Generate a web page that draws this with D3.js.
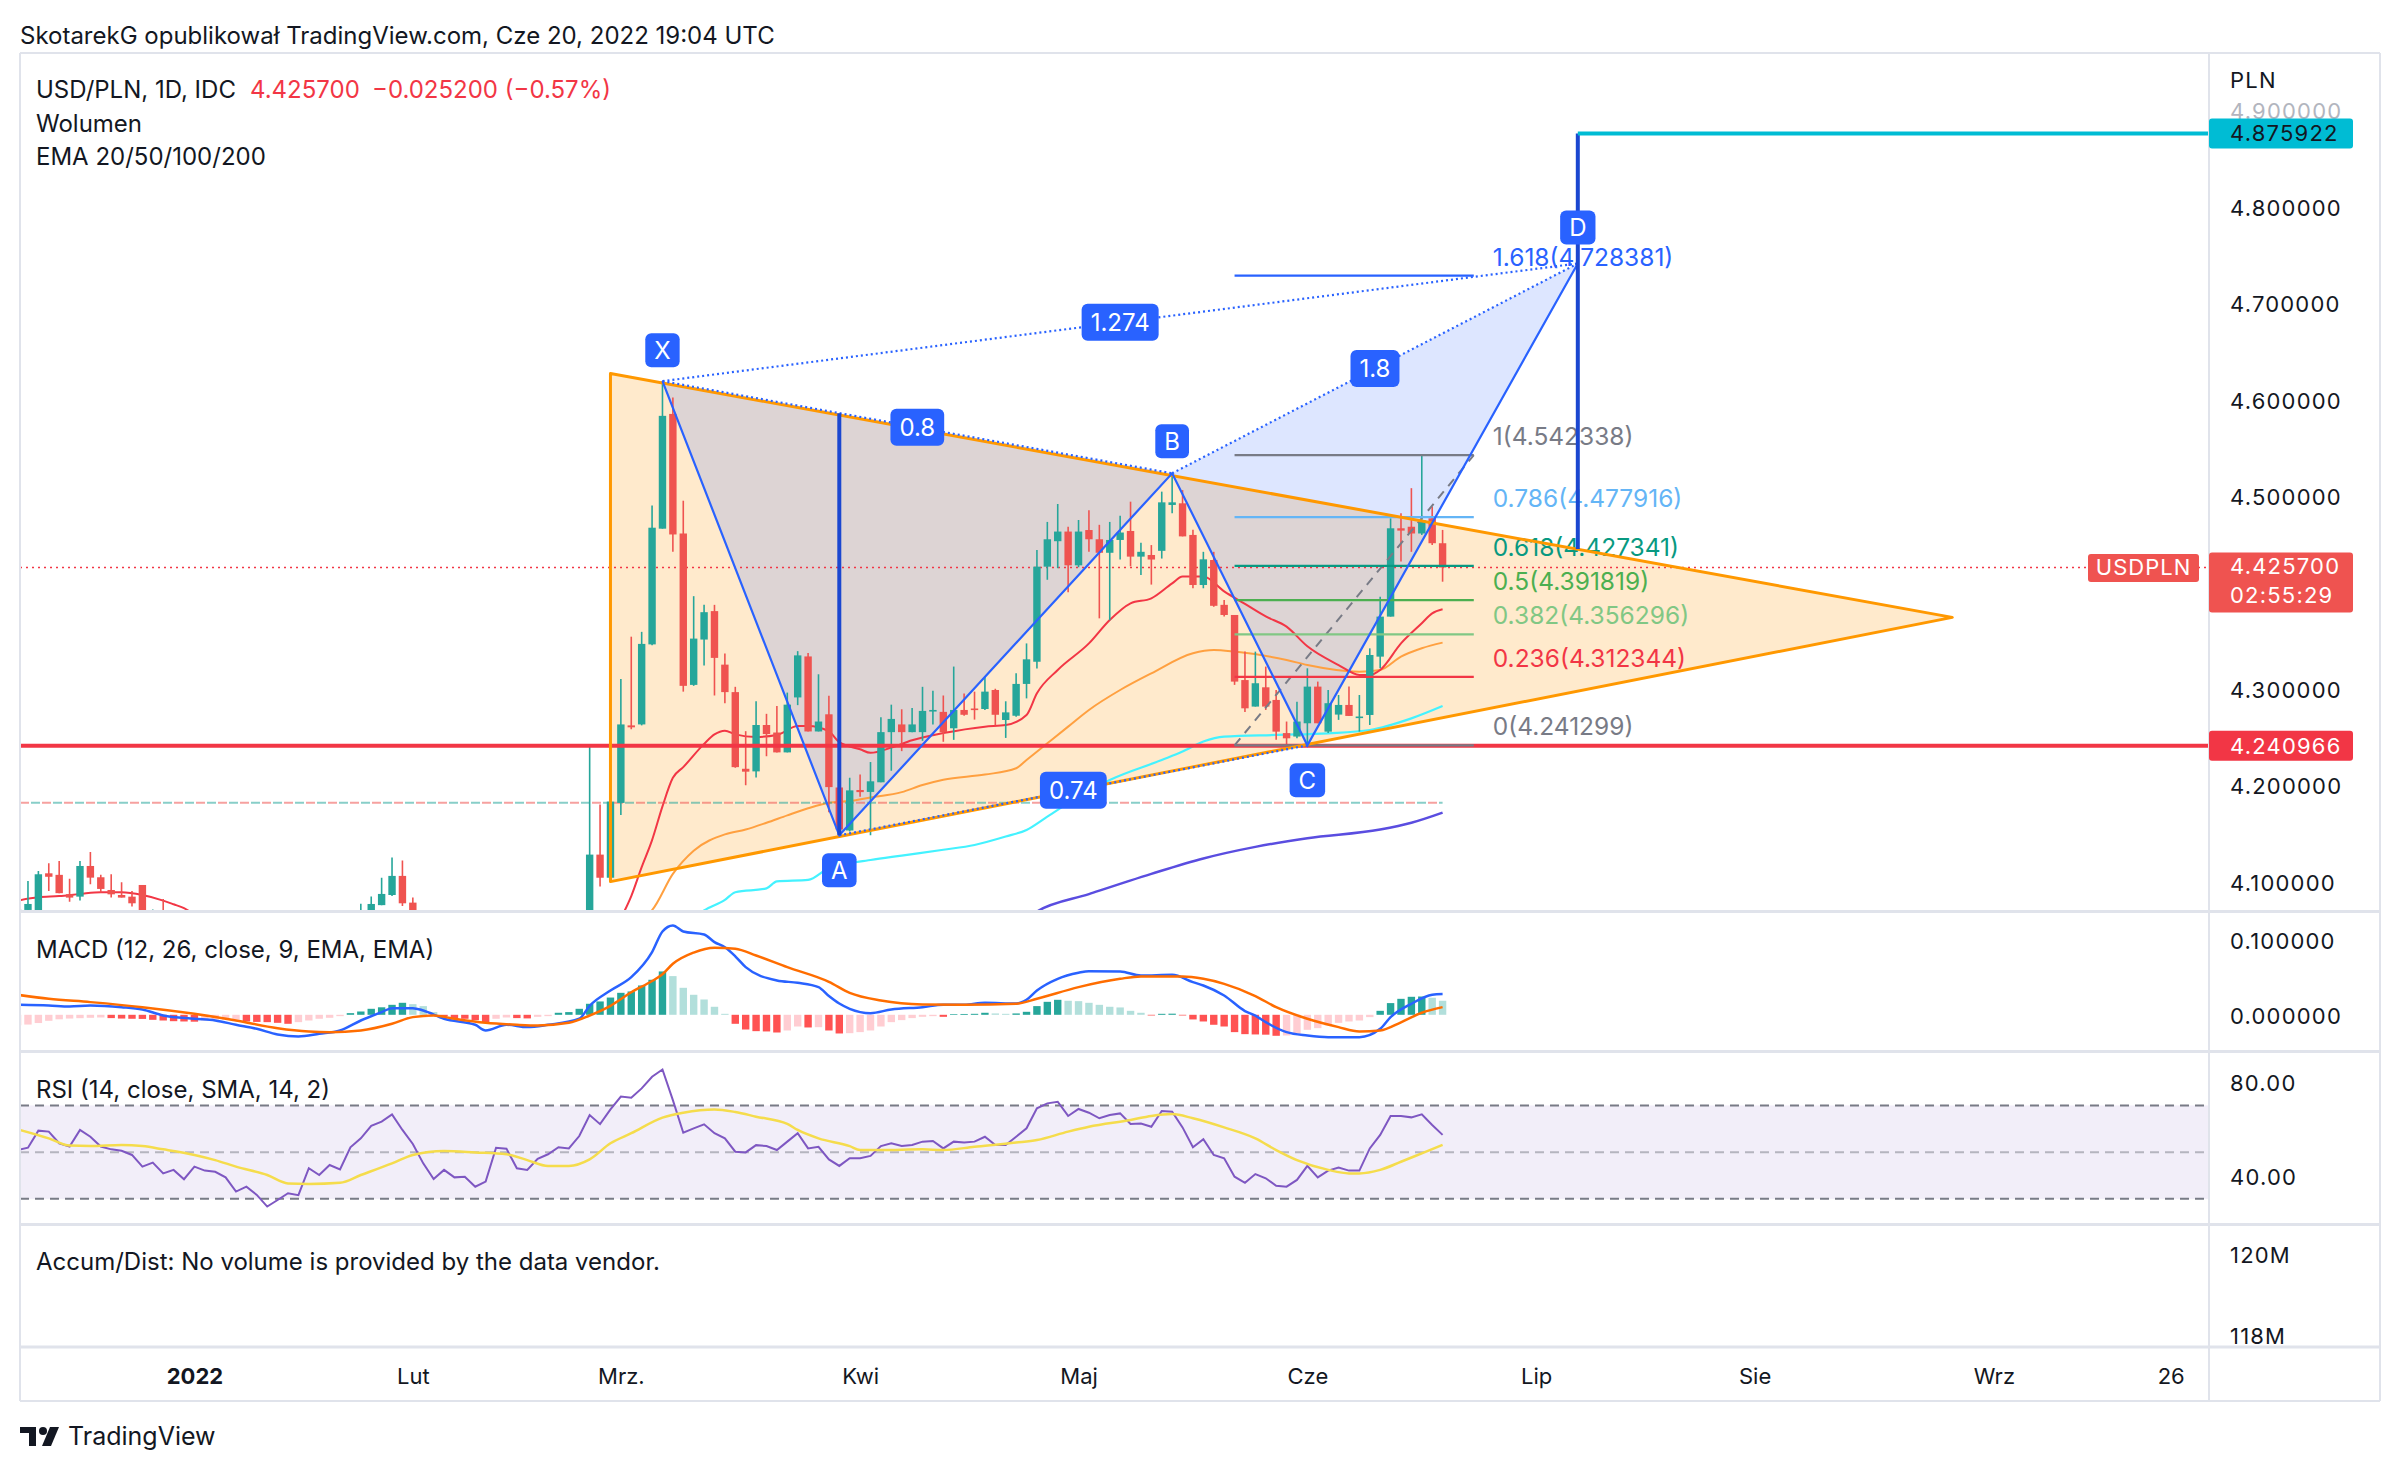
<!DOCTYPE html>
<html><head><meta charset="utf-8"><title>USD/PLN 1D</title>
<script src="https://cdn.jsdelivr.net/npm/d3@7/dist/d3.min.js"></script>
<style>
html,body{margin:0;padding:0;background:#fff;}
svg{display:block;}
text{font-family:Inter,"Noto Sans","DejaVu Sans",sans-serif;}
</style></head><body>
<svg id="chart" width="2400" height="1472"></svg>
<script>
// ================= DATA =================
const headerText = "SkotarekG opublikował TradingView.com, Cze 20, 2022 19:04 UTC";
const symbolText = "USD/PLN, 1D, IDC";
const lastPrice = 4.4257, lastChange = -0.0252, lastChangePct = -0.0057;
const prevCloseTimer = "02:55:29";
const legendExtra = ["Wolumen", "EMA 20/50/100/200"];

// candles: date, open, high, low, close
const candles = [
["2021-12-09",4.062,4.074,4.055,4.071],["2021-12-10",4.0706,4.1007,4.066,4.0768],
["2021-12-13",4.060,4.111,4.055,4.1076],["2021-12-14",4.1086,4.119,4.0903,4.105],
["2021-12-15",4.107,4.1214,4.088,4.088],["2021-12-16",4.087,4.103,4.0792,4.0834],
["2021-12-17",4.0844,4.1214,4.0803,4.1162],["2021-12-20",4.1162,4.1308,4.0972,4.1041],
["2021-12-21",4.1045,4.107,4.0886,4.0924],["2021-12-22",4.0913,4.1076,4.0834,4.0868],
["2021-12-23",4.0861,4.0993,4.0834,4.0834],["2021-12-24",4.0844,4.0903,4.0741,4.0775],
["2021-12-27",4.0965,4.0965,4.050,4.055],["2021-12-28",4.050,4.071,4.045,4.058],
["2021-12-29",4.062,4.082,4.045,4.050],
["2022-01-25",4.050,4.077,4.045,4.066],["2022-01-26",4.065,4.0845,4.060,4.0768],
["2022-01-27",4.0756,4.1041,4.0756,4.0872],["2022-01-28",4.0861,4.1249,4.085,4.1059],
["2022-01-31",4.1059,4.1218,4.0748,4.0775],["2022-02-01",4.0782,4.0834,4.050,4.055],
["2022-02-24",4.055,4.241,4.050,4.128],["2022-02-25",4.128,4.180,4.095,4.104],
["2022-02-28",4.104,4.222,4.100,4.183],["2022-03-01",4.1816,4.310,4.169,4.263],
["2022-03-02",4.262,4.354,4.258,4.260],["2022-03-03",4.263,4.359,4.262,4.3465],
["2022-03-04",4.346,4.490,4.345,4.467],["2022-03-07",4.466,4.619,4.466,4.583],
["2022-03-08",4.585,4.602,4.442,4.460],["2022-03-09",4.461,4.495,4.297,4.303],
["2022-03-10",4.304,4.396,4.303,4.352],["2022-03-11",4.351,4.387,4.324,4.3794],
["2022-03-14",4.3805,4.387,4.293,4.332],["2022-03-15",4.325,4.3365,4.285,4.2965],
["2022-03-16",4.2965,4.302,4.218,4.2187],["2022-03-17",4.217,4.256,4.200,4.214],
["2022-03-18",4.2143,4.287,4.208,4.2624],["2022-03-21",4.2624,4.274,4.230,4.253],
["2022-03-22",4.2546,4.282,4.234,4.234],["2022-03-23",4.234,4.296,4.234,4.2835],
["2022-03-24",4.291,4.339,4.283,4.3346],["2022-03-25",4.3335,4.337,4.2557,4.2557],
["2022-03-28",4.2557,4.315,4.2557,4.266],["2022-03-29",4.2735,4.2928,4.172,4.198],
["2022-03-30",4.1976,4.209,4.148,4.154],["2022-03-31",4.153,4.2076,4.152,4.1946],
["2022-04-01",4.195,4.211,4.188,4.1928],["2022-04-04",4.193,4.224,4.148,4.204],
["2022-04-05",4.203,4.2705,4.203,4.255],["2022-04-06",4.255,4.2835,4.215,4.2687],
["2022-04-07",4.263,4.2787,4.2353,4.255],["2022-04-08",4.255,4.280,4.255,4.263],
["2022-04-11",4.255,4.302,4.246,4.277],["2022-04-12",4.277,4.298,4.263,4.278],
["2022-04-13",4.276,4.293,4.245,4.255],["2022-04-14",4.259,4.323,4.247,4.278],
["2022-04-15",4.278,4.295,4.272,4.273],["2022-04-18",4.2795,4.297,4.268,4.278],
["2022-04-19",4.279,4.313,4.278,4.297],["2022-04-20",4.2987,4.300,4.262,4.273],
["2022-04-21",4.2676,4.287,4.249,4.2755],["2022-04-22",4.272,4.316,4.271,4.305],
["2022-04-25",4.305,4.347,4.290,4.3305],["2022-04-26",4.328,4.444,4.321,4.4266],
["2022-04-27",4.4266,4.473,4.413,4.455],["2022-04-28",4.453,4.4916,4.425,4.463],
["2022-04-29",4.463,4.468,4.400,4.428],["2022-05-02",4.428,4.475,4.426,4.463],
["2022-05-03",4.4646,4.485,4.442,4.455],["2022-05-04",4.455,4.470,4.373,4.441],
["2022-05-05",4.441,4.473,4.371,4.4543],["2022-05-06",4.4543,4.4795,4.434,4.462],
["2022-05-09",4.4636,4.494,4.427,4.437],["2022-05-10",4.437,4.4515,4.418,4.442],
["2022-05-11",4.4387,4.449,4.408,4.434],["2022-05-12",4.443,4.5044,4.435,4.4933],
["2022-05-13",4.4906,4.5234,4.482,4.4933],["2022-05-16",4.4923,4.506,4.458,4.458],
["2022-05-17",4.4595,4.465,4.4042,4.4076],["2022-05-18",4.4076,4.442,4.4042,4.4342],
["2022-05-19",4.4335,4.442,4.385,4.386],["2022-05-20",4.387,4.392,4.375,4.3765],
["2022-05-23",4.3765,4.3765,4.304,4.3074],["2022-05-24",4.309,4.3385,4.276,4.2797],
["2022-05-25",4.2815,4.3385,4.2815,4.3057],["2022-05-26",4.3015,4.323,4.278,4.2815],
["2022-05-27",4.2884,4.2987,4.247,4.2555],["2022-05-30",4.254,4.266,4.2383,4.2486],
["2022-05-31",4.2504,4.2866,4.2486,4.266],["2022-06-01",4.2642,4.3212,4.2413,4.3022],
["2022-06-02",4.3022,4.3074,4.2642,4.2642],["2022-06-03",4.2555,4.2987,4.254,4.285],
["2022-06-06",4.2732,4.2935,4.2677,4.2832],["2022-06-07",4.2832,4.3022,4.2718,4.2718],
["2022-06-08",4.2705,4.2935,4.2555,4.2712],["2022-06-09",4.2728,4.3419,4.2624,4.335],
["2022-06-10",4.3333,4.3955,4.3212,4.3748],["2022-06-13",4.3748,4.4767,4.3748,4.4664],
["2022-06-14",4.4664,4.482,4.432,4.464],["2022-06-15",4.468,4.508,4.442,4.461],
["2022-06-16",4.461,4.5423,4.4595,4.475],["2022-06-17",4.4768,4.4889,4.449,4.4509],
["2022-06-20",4.4509,4.4647,4.411,4.4257]
];

// EMA lines (date, value); null = gap (off-pane)
const ema20 = [
["2021-12-09",4.0803],["2021-12-13",4.0837],["2021-12-15",4.085],["2021-12-17",4.0872],
["2021-12-21",4.089],["2021-12-23",4.0889],["2021-12-27",4.086],["2021-12-29",4.0803],
["2021-12-30",4.0765],["2021-12-31",4.0725],["2022-01-03",4.066],["2022-01-04",null],
["2022-03-01",4.062],["2022-03-02",4.085],["2022-03-03",4.115],["2022-03-04",4.143],
["2022-03-07",4.178],["2022-03-08",4.2076],["2022-03-09",4.2187],["2022-03-11",4.2428],
["2022-03-14",4.2527],["2022-03-15",4.2565],["2022-03-16",4.2527],["2022-03-18",4.250],
["2022-03-22",4.252],["2022-03-24",4.2613],["2022-03-25",4.2613],["2022-03-29",4.2557],
["2022-03-30",4.2446],["2022-04-01",4.2372],["2022-04-04",4.2335],["2022-04-06",4.239],
["2022-04-08",4.2465],["2022-04-13",4.254],["2022-04-19",4.2607],["2022-04-21",4.2624],
["2022-04-25",4.2728],["2022-04-26",4.2953],["2022-04-28",4.3195],["2022-05-03",4.347],
["2022-05-05",4.3713],["2022-05-09",4.3886],["2022-05-11",4.3938],["2022-05-13",4.4093],
["2022-05-16",4.4163],["2022-05-18",4.4163],["2022-05-20",4.401],["2022-05-24",4.388],
["2022-05-26",4.375],["2022-05-30",4.3644],["2022-06-01",4.344],["2022-06-06",4.3246],
["2022-06-08",4.3143],["2022-06-09",4.3143],["2022-06-10",4.3195],["2022-06-14",4.347],
["2022-06-16",4.3679],["2022-06-17",4.3782],["2022-06-20",4.3824]
];
const ema50 = [
["2022-03-03",4.062],["2022-03-04",4.0705],["2022-03-08",4.108],["2022-03-10",4.132],
["2022-03-15",4.149],["2022-03-17",4.154],["2022-03-21",4.161],["2022-03-23",4.1687],
["2022-03-25",4.176],["2022-03-29",4.1817],["2022-03-31",4.1835],["2022-04-04",4.1872],
["2022-04-07",4.1928],["2022-04-11",4.2002],["2022-04-13",4.2057],["2022-04-19",4.211],
["2022-04-22",4.2175],["2022-04-25",4.2261],["2022-04-27",4.2434],["2022-04-29",4.2607],
["2022-05-03",4.278],["2022-05-06",4.2987],["2022-05-11",4.316],["2022-05-17",4.3368],
["2022-05-19",4.3402],["2022-05-23",4.3385],["2022-05-30",4.3298],["2022-06-01",4.3246],
["2022-06-08",4.3177],["2022-06-10",4.3195],["2022-06-14",4.3333],["2022-06-16",4.342],
["2022-06-20",4.3478]
];
const ema100 = [
["2022-03-10",4.062],["2022-03-11",4.070],["2022-03-15",4.081],["2022-03-16",4.089],
["2022-03-21",4.093],["2022-03-22",4.1002],["2022-03-25",4.1017],["2022-03-29",4.114],
["2022-04-04",4.1224],["2022-04-07",4.127],["2022-04-13",4.133],["2022-04-18",4.138],
["2022-04-21",4.1467],["2022-04-25",4.1536],["2022-04-27",4.1674],["2022-05-02",4.1881],
["2022-05-05",4.2054],["2022-05-12",4.2261],["2022-05-16",4.2348],["2022-05-18",4.2452],
["2022-05-20",4.2503],["2022-05-27",4.2521],["2022-06-03",4.2538],["2022-06-09",4.2572],
["2022-06-15",4.2693],["2022-06-20",4.2821]
];
const ema200 = [
["2022-04-25",4.062],["2022-04-26",4.069],["2022-05-03",4.087],["2022-05-11",4.108],
["2022-05-18",4.124],["2022-05-25",4.136],["2022-06-01",4.145],["2022-06-10",4.154],
["2022-06-15",4.161],["2022-06-20",4.1715]
];

// dashed price line, red horizontal, cyan target
const dashedLevel = 4.1818;
const supportLevel = 4.240966;
const targetLevel = 4.875922;

// triangle (orange)
const triangle = [["2022-02-28",4.6269],["2022-02-28",4.100],["2022-08-26",4.374]];

// XABCD pattern (offset = label distance from point)
const pattern = [
{name:"X", date:"2022-03-07", value:4.619, pos:"up", off:31},
{name:"A", date:"2022-03-30", value:4.148, pos:"down", off:35},
{name:"B", date:"2022-05-13", value:4.5234, pos:"up", off:32},
{name:"C", date:"2022-06-01", value:4.2413, pos:"down", off:35},
{name:"D", date:"2022-07-07", value:4.741, pos:"up", off:36}
];
const patternRatios = [
{from:"X", to:"B", label:"0.8"},
{from:"A", to:"C", label:"0.74"},
{from:"X", to:"D", label:"1.274"},
{from:"B", to:"D", label:"1.8"}
];
// vertical measuring lines: date, top, bottom
const verticals = [["2022-03-30",4.5858,4.148],["2022-07-07",4.875922,4.445]];

// Fibonacci retracement
const fibStart = "2022-05-23", fibEnd = "2022-06-23";
const fibLevels = [
{ratio:"1.618", value:4.728381, color:"#2962ff"},
{ratio:"1", value:4.542338, color:"#787b86"},
{ratio:"0.786", value:4.477916, color:"#64b5f6"},
{ratio:"0.618", value:4.427341, color:"#089981"},
{ratio:"0.5", value:4.391819, color:"#4caf50"},
{ratio:"0.382", value:4.356296, color:"#81c784"},
{ratio:"0.236", value:4.312344, color:"#f23645"},
{ratio:"0", value:4.241299, color:"#787b86"}
];
const fibTrend = [["2022-05-23",4.241299],["2022-06-23",4.542338]];

// MACD histogram, one value per bar starting at histStart
const histStart = "2021-12-09";
const macdHist = [
-0.014,-0.013,-0.011,-0.008,-0.006,-0.005,-0.0045,-0.004,-0.0036,
-0.0044,-0.005,-0.0053,-0.0055,-0.0067,-0.0076,-0.0085,-0.0089,-0.0092,
-0.0076,-0.0066,-0.0064,-0.0062,
-0.0089,-0.0095,-0.0098,-0.0107,-0.012,
-0.0098,-0.0076,-0.0053,-0.004,-0.0018,
0.0022,0.0044,0.008,0.010,0.0133,0.016,
0.0142,0.0116,0.0036,
-0.0018,-0.0044,-0.0053,-0.0071,-0.0098,
-0.0053,-0.0036,
-0.0044,-0.0048,
-0.0027,-0.0018,
0.0027,0.0036,0.008,0.0147,0.0178,0.023,0.0293,0.0311,0.0391,0.0467,0.0578,
0.0516,0.036,0.0267,0.0204,0.0107,0.0013,
-0.012,-0.0196,-0.0218,-0.0222,-0.0236,
-0.0209,-0.0156,
-0.0169,
-0.0165,
-0.0209,-0.0249,
-0.0245,-0.0231,-0.0209,-0.0156,-0.0098,-0.0071,-0.0044,-0.0027,-0.0018,
-0.0027,
0.0009,0.0011,0.0013,0.0027,
0.0018,0.0013,
0.0018,0.004,0.0116,0.0173,0.020,
0.0187,0.0182,0.016,0.0133,0.0107,0.0098,0.0053,0.0027,
-0.0009,
0.0013,0.0015,
-0.0009,-0.0062,-0.0089,-0.0133,-0.0156,-0.0231,-0.0258,-0.0262,-0.0265,-0.028,
-0.0276,-0.0253,-0.020,-0.0178,-0.0142,-0.0107,-0.0089,-0.0076,-0.0031,
0.0053,0.0156,0.0213,0.024,0.0244,
0.0227,0.0187
];
const macdLine = [
["2021-12-09",0.0133],["2021-12-14",0.0124],["2021-12-16",0.0111],["2021-12-20",0.0124],
["2021-12-23",0.0102],["2021-12-27",0.0071],["2021-12-29",-0.0009],["2022-01-03",-0.0053],
["2022-01-05",-0.0076],["2022-01-07",-0.0133],["2022-01-11",-0.0187],["2022-01-13",-0.0262],
["2022-01-17",-0.0289],["2022-01-19",-0.0253],["2022-01-21",-0.0209],["2022-01-25",-0.0076],
["2022-01-27",0.0036],["2022-01-28",0.0089],["2022-02-01",0.0089],["2022-02-02",0.0058],
["2022-02-04",-0.0053],["2022-02-09",-0.0133],["2022-02-10",-0.0209],["2022-02-14",-0.0133],
["2022-02-16",-0.0164],["2022-02-18",-0.0133],["2022-02-23",-0.0053],["2022-02-24",0.012],
["2022-02-28",0.0324],["2022-03-02",0.0502],["2022-03-04",0.0836],["2022-03-07",0.1111],
["2022-03-08",0.1191],["2022-03-09",0.1111],["2022-03-11",0.1071],["2022-03-14",0.0969],
["2022-03-15",0.090],["2022-03-16",0.078],["2022-03-17",0.0636],["2022-03-22",0.0458],
["2022-03-24",0.0427],["2022-03-28",0.0369],["2022-03-29",0.025],["2022-03-30",0.015],
["2022-03-31",0.008],["2022-04-04",0.0022],["2022-04-06",0.0071],["2022-04-11",0.0102],
["2022-04-13",0.0133],["2022-04-15",0.0133],["2022-04-19",0.016],["2022-04-22",0.0151],
["2022-04-25",0.020],["2022-04-26",0.0324],["2022-04-28",0.048],["2022-05-02",0.056],
["2022-05-03",0.0582],["2022-05-06",0.0578],["2022-05-10",0.0524],["2022-05-13",0.0533],
["2022-05-17",0.0436],["2022-05-18",0.0391],["2022-05-20",0.0258],["2022-05-24",0.005],
["2022-05-25",-0.001],["2022-05-26",-0.0098],["2022-05-30",-0.0231],["2022-06-01",-0.0276],
["2022-06-03",-0.0298],["2022-06-08",-0.0298],["2022-06-10",-0.0187],["2022-06-13",-0.0031],
["2022-06-15",0.0147],["2022-06-17",0.0267],["2022-06-20",0.0276]
];
const macdSignal = [
["2021-12-09",0.0267],["2021-12-14",0.0213],["2021-12-20",0.0169],["2021-12-27",0.0102],
["2022-01-03",0.0013],["2022-01-07",-0.0076],["2022-01-13",-0.0178],["2022-01-18",-0.0222],
["2022-01-20",-0.0231],["2022-01-25",-0.0209],["2022-01-28",-0.012],["2022-02-01",-0.0031],
["2022-02-03",-0.0009],["2022-02-07",-0.0053],["2022-02-10",-0.0107],["2022-02-15",-0.0133],
["2022-02-17",-0.0142],["2022-02-22",-0.0107],["2022-02-24",-0.0009],["2022-02-28",0.012],
["2022-03-02",0.030],["2022-03-04",0.045],["2022-03-07",0.054],["2022-03-08",0.068],
["2022-03-10",0.083],["2022-03-14",0.0895],["2022-03-16",0.088],["2022-03-18",0.0791],
["2022-03-23",0.0636],["2022-03-29",0.044],["2022-03-31",0.0293],["2022-04-05",0.0191],
["2022-04-11",0.0138],["2022-04-15",0.0133],["2022-04-22",0.0147],["2022-04-26",0.0213],
["2022-05-02",0.0369],["2022-05-06",0.048],["2022-05-10",0.0511],["2022-05-16",0.0511],
["2022-05-18",0.048],["2022-05-20",0.0413],["2022-05-25",0.025],["2022-05-27",0.0102],
["2022-06-01",-0.0053],["2022-06-06",-0.0164],["2022-06-08",-0.0222],["2022-06-10",-0.0209],
["2022-06-14",-0.010],["2022-06-16",0.0027],["2022-06-20",0.0102]
];

// RSI, one value per bar starting at histStart
const rsiValues = [
50.9,51.9,59.2,58.8,53.8,52.4,59.5,56.6,52.4,51.2,50.6,48.8,43.8,45.5,40.9,42.4,38.4,
43.8,42.1,41.6,39.2,33.1,35.2,31.7,26.7,29.5,32.4,31.6,43.1,40.2,44.5,42.6,52.1,55.9,61.3,63.1,66.2,59.5,
53.5,45.2,38.5,42.4,39.2,39.5,35.2,37.4,51.9,51.5,43.1,42.4,47.1,49.1,52.1,51.6,56.9,65.9,62.0,68.3,
73.8,73.3,77.3,82.3,85.4,72.3,58.3,60.2,61.9,58.1,55.9,50.2,49.9,53.0,52.6,50.9,54.5,58.1,51.6,52.3,46.9,44.1,47.4,
47.4,48.4,52.6,53.8,52.6,53.1,54.5,54.8,51.6,54.5,54.1,54.5,56.6,53.1,53.1,56.6,60.2,68.8,70.9,71.6,65.5,
68.5,66.9,64.5,65.9,66.6,62.1,62.3,60.9,67.6,67.3,60.6,52.1,55.5,48.8,47.4,39.5,36.9,40.6,38.8,35.6,35.2,38.1,
44.1,39.2,42.1,43.4,42.1,42.1,51.6,57.4,65.5,65.5,64.9,66.2,61.6,57.4
];
const rsiMA = [
["2021-12-09",59.8],["2021-12-14",55.9],["2021-12-16",52.8],["2021-12-20",52.6],
["2021-12-23",53.1],["2021-12-27",52.6],["2021-12-29",51.2],["2022-01-03",48.8],
["2022-01-05",46.6],["2022-01-07",43.8],["2022-01-12",40.2],["2022-01-14",36.6],
["2022-01-18",36.4],["2022-01-21",36.9],["2022-01-25",40.2],["2022-01-28",45.2],
["2022-02-01",48.8],["2022-02-04",50.5],["2022-02-09",49.9],["2022-02-14",49.1],
["2022-02-16",46.6],["2022-02-18",44.1],["2022-02-22",44.1],["2022-02-24",46.9],
["2022-02-28",53.8],["2022-03-02",58.1],["2022-03-07",64.8],["2022-03-09",66.9],
["2022-03-14",68.3],["2022-03-16",67.2],["2022-03-18",65.2],["2022-03-23",62.1],
["2022-03-24",59.5],["2022-03-28",55.9],["2022-03-31",52.6],["2022-04-01",50.9],
["2022-04-05",50.9],["2022-04-11",51.2],["2022-04-13",50.9],["2022-04-18",52.3],
["2022-04-22",54.1],["2022-04-26",55.2],["2022-04-29",58.8],["2022-05-03",60.9],
["2022-05-09",63.8],["2022-05-11",65.5],["2022-05-13",66.3],["2022-05-17",64.5],
["2022-05-20",60.6],["2022-05-25",55.9],["2022-05-27",50.9],["2022-05-31",46.6],
["2022-06-03",42.4],["2022-06-07",40.9],["2022-06-08",40.9],["2022-06-10",42.4],
["2022-06-14",45.9],["2022-06-16",49.5],["2022-06-20",53.1]
];

// axes
const priceTicks = [4.1,4.2,4.3,4.4,4.5,4.6,4.7,4.8,4.9];
const priceTickLabels = [4.1,4.2,4.3,4.5,4.6,4.7,4.8,4.9]; // 4.4 is hidden behind the last-price tag
const macdTicks = [0, 0.1];
const rsiTicks = [40, 80];
const rsiBands = {upper:70, middle:50, lower:30};
const adTicks = [118, 120];
const adTickLabels = ["118M","120M"];
const timeTicks = [
{date:"2022-01-03", label:"2022", bold:true},{date:"2022-02-01", label:"Lut"},
{date:"2022-03-01", label:"Mrz."},{date:"2022-04-01", label:"Kwi"},
{date:"2022-05-02", label:"Maj"},{date:"2022-06-01", label:"Cze"},
{date:"2022-07-01", label:"Lip"},{date:"2022-08-01", label:"Sie"},
{date:"2022-09-01", label:"Wrz"},{date:"2022-09-26", label:"26"}
];

// ================= HELPERS =================
const BASE = Date.UTC(2022,0,3), DAY = 864e5;
function bi(s){ // trading-day index (Mon-Fri) relative to 2022-01-03
  const days = Math.round((Date.parse(s+"T00:00:00Z")-BASE)/DAY);
  const w = Math.floor(days/7), r = days - 7*w;
  return 5*w + Math.min(r,5);
}
const histStartIdx = bi(histStart);

// ================= LAYOUT =================
const L = 20, R = 2209, FR = 2380;
const P = {top:53, bot:911.5}, M = {top:911.5, bot:1051.5}, RS = {top:1051.5, bot:1224.5},
      AD = {top:1224.5, bot:1347}, TA = {top:1347, bot:1401};
const INK = "#131722", GRID = "#f0f3fa", SEP = "#e0e3eb";
const UP = "#26a69a", DN = "#ef5350";
const FONT = 22, TFONT = 24;

const x = d3.scaleLinear().domain([0,190]).range([194.4, 2170.7]);
const y = d3.scaleLinear().domain([4.1,4.8]).range([881.6, 206.6]);
const ym = d3.scaleLinear().domain([0,0.1]).range([1014.8, 939.8]);
const yr = d3.scaleLinear().domain([40,80]).range([1175.5, 1082.1]);
const ya = d3.scaleLinear().domain([118,120]).range([1334.7, 1253.6]);

const svg = d3.select("#chart");
svg.append("rect").attr("width",2400).attr("height",1472).attr("fill","#fff");
const defs = svg.append("defs");
function clip(id, t, b){ defs.append("clipPath").attr("id",id).append("rect").attr("x",L).attr("y",t).attr("width",R-L).attr("height",b-t); }
clip("cp",P.top,P.bot); clip("cm",M.top,M.bot); clip("cr",RS.top,RS.bot); clip("ca",AD.top,AD.bot);

// ---------- grid ----------
const gridG = svg.append("g");
const tickIdx = timeTicks.map(t=>bi(t.date));
[[P,"cp"],[M,"cm"],[RS,"cr"],[AD,"ca"]].forEach(([pane,id])=>{
  const g = gridG.append("g").attr("clip-path",`url(#${id})`)
    .attr("transform",`translate(0,${pane.bot})`)
    .call(d3.axisBottom(x).tickValues(tickIdx).tickSize(-(pane.bot-pane.top)).tickFormat(""));
  g.select(".domain").remove();
  g.selectAll("line").attr("stroke",GRID).attr("stroke-width",2);
});
function hGrid(scale, ticks, id){
  const g = gridG.append("g").attr("clip-path",`url(#${id})`).attr("transform",`translate(${R},0)`)
    .call(d3.axisRight(scale).tickValues(ticks).tickSize(-(R-L)).tickFormat(""));
  g.select(".domain").remove();
  g.selectAll("line").attr("stroke",GRID).attr("stroke-width",2);
}
hGrid(y, priceTicks, "cp"); hGrid(ym, macdTicks, "cm"); hGrid(yr, rsiTicks, "cr"); hGrid(ya, adTicks, "ca");

// ---------- price pane ----------
const pp = svg.append("g").attr("clip-path","url(#cp)");
const px = d => x(bi(d));

const triPts = triangle.map(([d,v])=>[px(d), y(v)]);
pp.append("path").attr("d", d3.line()(triPts)+"Z").attr("fill","rgba(255,152,0,0.2)");

const pt = {}; pattern.forEach(p=>pt[p.name]=[px(p.date), y(p.value)]);
pp.append("path").attr("d", d3.line()([pt.X,pt.A,pt.B])+"Z").attr("fill","rgba(41,98,255,0.16)");
pp.append("path").attr("d", d3.line()([pt.B,pt.C,pt.D])+"Z").attr("fill","rgba(41,98,255,0.16)");

const emaLine = d3.line().defined(d=>d[1]!=null).x(d=>px(d[0])).y(d=>y(d[1])).curve(d3.curveMonotoneX);
[[ema200,"#5a4de0",2.5],[ema100,"#44f2ff",2.2],[ema50,"#ffa040",2],[ema20,"#f23645",2]].forEach(([s,c,w])=>{
  pp.append("path").attr("d",emaLine(s)).attr("fill","none").attr("stroke",c).attr("stroke-width",w);
});

const lastIdx = bi(candles[candles.length-1][0]);
pp.append("line").attr("x1",L).attr("x2",x(lastIdx)).attr("y1",y(dashedLevel)).attr("y2",y(dashedLevel))
  .attr("stroke","rgba(239,83,80,0.55)").attr("stroke-width",2).attr("stroke-dasharray","9 13");
pp.append("line").attr("x1",L+11).attr("x2",x(lastIdx)).attr("y1",y(dashedLevel)).attr("y2",y(dashedLevel))
  .attr("stroke","rgba(38,166,154,0.55)").attr("stroke-width",2).attr("stroke-dasharray","9 13");

pp.append("line").attr("x1",L).attr("x2",R).attr("y1",y(lastPrice)).attr("y2",y(lastPrice))
  .attr("stroke","#f23645").attr("stroke-width",1.6).attr("stroke-dasharray","2 4");

const cg = pp.append("g").selectAll("g").data(candles).join("g");
cg.append("line").attr("x1",d=>px(d[0])).attr("x2",d=>px(d[0]))
  .attr("y1",d=>y(d[2])).attr("y2",d=>y(d[3]))
  .attr("stroke",d=>d[4]>=d[1]?UP:DN).attr("stroke-width",1.6);
cg.append("rect").attr("x",d=>px(d[0])-3.7).attr("width",7.4)
  .attr("y",d=>y(Math.max(d[1],d[4])))
  .attr("height",d=>Math.max(1.6, Math.abs(y(d[1])-y(d[4]))))
  .attr("fill",d=>d[4]>=d[1]?UP:DN);

pp.append("line").attr("x1",L).attr("x2",R).attr("y1",y(supportLevel)).attr("y2",y(supportLevel))
  .attr("stroke","#f23645").attr("stroke-width",4);

const fx1 = px(fibStart), fx2 = px(fibEnd);
pp.append("line").attr("x1",px(fibTrend[0][0])).attr("y1",y(fibTrend[0][1]))
  .attr("x2",px(fibTrend[1][0])).attr("y2",y(fibTrend[1][1]))
  .attr("stroke","#787b86").attr("stroke-width",2).attr("stroke-dasharray","9 7");
fibLevels.forEach(f=>{
  pp.append("line").attr("x1",fx1).attr("x2",fx2).attr("y1",y(f.value)).attr("y2",y(f.value))
    .attr("stroke",f.color).attr("stroke-width",2.2);
});
fibLevels.forEach(f=>{
  pp.append("text").attr("x",fx2+19).attr("y",y(f.value)-10).attr("fill",f.color)
    .attr("font-size",24.5).text(`${f.ratio}(${d3.format(".6f")(f.value)})`);
});

pp.append("path").attr("d", d3.line()(triPts)+"Z").attr("fill","none").attr("stroke","#ff9800").attr("stroke-width",3).attr("stroke-linejoin","round");

const BLUE = "#2962ff";
pp.append("path").attr("d", d3.line()([pt.X,pt.A,pt.B,pt.C,pt.D])).attr("fill","none").attr("stroke",BLUE).attr("stroke-width",2.2);
patternRatios.forEach(r=>{
  pp.append("line").attr("x1",pt[r.from][0]).attr("y1",pt[r.from][1]).attr("x2",pt[r.to][0]).attr("y2",pt[r.to][1])
    .attr("stroke",BLUE).attr("stroke-width",2.2).attr("stroke-dasharray","2 3");
});

verticals.forEach(([d,t,b])=>{
  pp.append("line").attr("x1",px(d)).attr("x2",px(d)).attr("y1",y(t)).attr("y2",y(b))
    .attr("stroke","#1b47d0").attr("stroke-width",4);
});
pp.append("line").attr("x1",px(verticals[1][0])).attr("x2",R).attr("y1",y(targetLevel)).attr("y2",y(targetLevel))
  .attr("stroke","#00bcd4").attr("stroke-width",4);

function tag(g, cx, cy, txt, minW, h){
  h = h || 37;
  const grp = g.append("g");
  const rect = grp.append("rect").attr("fill",BLUE).attr("rx",6);
  const t = grp.append("text").attr("x",cx).attr("y",cy).attr("dy","0.35em").attr("text-anchor","middle")
    .attr("fill","#fff").attr("font-size",24).text(txt);
  const w = Math.max(minW||0, t.node().getComputedTextLength()+18);
  rect.attr("x",cx-w/2).attr("y",cy-h/2).attr("width",w).attr("height",h);
}
patternRatios.forEach(r=>{
  tag(pp, (pt[r.from][0]+pt[r.to][0])/2, (pt[r.from][1]+pt[r.to][1])/2, r.label);
});
pattern.forEach(p=>{
  const [cx,cy] = pt[p.name];
  tag(pp, cx, p.pos==="up"? cy-p.off : cy+p.off, p.name, 32, 34);
});

const lp = y(lastPrice);
pp.append("rect").attr("x",2088).attr("y",lp-13.5).attr("width",111).attr("height",28).attr("rx",3).attr("fill","#ef5350");
pp.append("text").attr("x",2143.5).attr("y",lp).attr("dy","0.36em").attr("text-anchor","middle")
  .attr("fill","#fff").attr("font-size",FONT).style("letter-spacing","1px").text("USDPLN");

// ---------- MACD pane ----------
const mp = svg.append("g").attr("clip-path","url(#cm)");
const histData = macdHist.map((v,k)=>({i:histStartIdx+k, v, prev: k>0? macdHist[k-1] : null}));
mp.selectAll("rect").data(histData).join("rect")
  .attr("x",d=>x(d.i)-3.7).attr("width",7.4)
  .attr("y",d=>Math.min(ym(0),ym(d.v))).attr("height",d=>Math.abs(ym(d.v)-ym(0)))
  .attr("fill",d=>{
    const rising = d.prev==null ? true : d.v > d.prev;
    if (d.v >= 0) return rising ? "#26a69a" : "#b2dfdb";
    return rising ? "#ffcdd2" : "#ff5252";
  });
const ml = d3.line().x(d=>px(d[0])).curve(d3.curveMonotoneX);
mp.append("path").attr("d", ml.y(d=>ym(d[1]))(macdLine)).attr("fill","none").attr("stroke","#2962ff").attr("stroke-width",2.5);
mp.append("path").attr("d", ml.y(d=>ym(d[1]))(macdSignal)).attr("fill","none").attr("stroke","#ff6d00").attr("stroke-width",2.5);

// ---------- RSI pane ----------
const rp = svg.append("g").attr("clip-path","url(#cr)");
rp.append("rect").attr("x",L).attr("width",R-L).attr("y",yr(rsiBands.upper)).attr("height",yr(rsiBands.lower)-yr(rsiBands.upper))
  .attr("fill","rgba(126,87,194,0.1)");
[[rsiBands.upper,"#787b86"],[rsiBands.lower,"#787b86"],[rsiBands.middle,"rgba(120,123,134,0.5)"]].forEach(([v,c])=>{
  rp.append("line").attr("x1",L).attr("x2",R).attr("y1",yr(v)).attr("y2",yr(v)).attr("stroke",c).attr("stroke-width",2).attr("stroke-dasharray","9 6");
});
const rsiPts = rsiValues.map((v,k)=>[histStartIdx+k, v]);
rp.append("path").attr("d", d3.line().x(d=>x(d[0])).y(d=>yr(d[1]))(rsiPts)).attr("fill","none").attr("stroke","#7e57c2").attr("stroke-width",2);
rp.append("path").attr("d", d3.line().x(d=>px(d[0])).y(d=>yr(d[1])).curve(d3.curveMonotoneX)(rsiMA)).attr("fill","none").attr("stroke","#f5dc4c").attr("stroke-width",2.5);

// ---------- frame & separators ----------
const fr = svg.append("g");
fr.append("line").attr("x1",L).attr("x2",FR).attr("y1",P.top).attr("y2",P.top).attr("stroke",SEP).attr("stroke-width",2);
[P.bot, M.bot, RS.bot, AD.bot].forEach(v=>fr.append("line").attr("x1",L).attr("x2",FR).attr("y1",v).attr("y2",v).attr("stroke",SEP).attr("stroke-width",3));
fr.append("line").attr("x1",L).attr("x2",FR).attr("y1",TA.bot).attr("y2",TA.bot).attr("stroke",SEP).attr("stroke-width",2);
[L, R, FR].forEach(v=>fr.append("line").attr("x1",v).attr("x2",v).attr("y1",P.top).attr("y2",TA.bot).attr("stroke",SEP).attr("stroke-width",2));

// ---------- right axes ----------
function rightAxis(scale, ticks, fmt){
  const g = svg.append("g").attr("transform",`translate(${R},1.5)`)
    .call(d3.axisRight(scale).tickValues(ticks).tickFormat(fmt).tickSize(0).tickPadding(21));
  g.select(".domain").remove();
  g.selectAll("text").attr("font-size",FONT).attr("fill",INK).style("letter-spacing","1.2px")
    .attr("font-family",'Inter,"Noto Sans",sans-serif');
  return g;
}
const pa = rightAxis(y, priceTickLabels, d3.format(".6f"));
pa.selectAll("text").filter(d=>d>4.85).attr("fill","#b2b5be");
rightAxis(ym, macdTicks, d3.format(".6f"));
rightAxis(yr, rsiTicks, d3.format(".2f"));
rightAxis(ya, adTicks, (d,i)=>adTickLabels[i]);
svg.append("text").attr("x",2230).attr("y",88).attr("font-size",FONT).attr("fill",INK).style("letter-spacing","1.2px").text("PLN");

function axisBox(top, h, fill, lines, color){
  const g = svg.append("g");
  g.append("rect").attr("x",R).attr("y",top).attr("width",144).attr("height",h).attr("rx",3).attr("fill",fill);
  lines.forEach(([t,yy])=>g.append("text").attr("x",R+21).attr("y",yy).attr("dy","0.36em").attr("font-size",FONT)
    .attr("fill",color).style("letter-spacing","1.2px").text(t));
}
axisBox(y(targetLevel)-15, 30, "#00bcd4", [[d3.format(".6f")(targetLevel), y(targetLevel)]], INK);
axisBox(y(supportLevel)-15, 30, "#f23645", [[d3.format(".6f")(supportLevel), y(supportLevel)]], "#fff");
axisBox(y(lastPrice)-15, 60, "#ef5350", [[d3.format(".6f")(lastPrice), y(lastPrice)-1],[prevCloseTimer, y(lastPrice)+28]], "#fff");

// ---------- time axis ----------
const ta = svg.append("g").attr("transform","translate(0,1376.5)")
  .call(d3.axisBottom(x).tickValues(tickIdx).tickFormat((d,i)=>timeTicks[i].label).tickSize(0));
ta.select(".domain").remove();
ta.selectAll("text").attr("y",0).attr("dy","0.36em").attr("font-size",FONT).attr("fill",INK)
  .attr("font-family",'Inter,"Noto Sans",sans-serif')
  .attr("font-weight",(d,i)=>timeTicks[i].bold?700:400);

// ---------- texts ----------
svg.append("text").attr("x",20).attr("y",44).attr("font-size",TFONT).attr("fill",INK).text(headerText);
svg.append("text").attr("x",36).attr("y",98).attr("font-size",TFONT).attr("fill",INK).text(symbolText);
svg.append("text").attr("x",250).attr("y",98).attr("font-size",TFONT).attr("fill","#f23645").text(d3.format(".6f")(lastPrice));
svg.append("text").attr("x",372).attr("y",98).attr("font-size",TFONT).attr("fill","#f23645")
  .text(`${d3.format(".6f")(lastChange)} (${d3.format(".2%")(lastChangePct)})`);
legendExtra.forEach((t,i)=>svg.append("text").attr("x",36).attr("y",132+i*33).attr("font-size",TFONT).attr("fill",INK).text(t));
svg.append("text").attr("x",36).attr("y",958).attr("font-size",TFONT).attr("fill",INK).text("MACD (12, 26, close, 9, EMA, EMA)");
svg.append("text").attr("x",36).attr("y",1098).attr("font-size",TFONT).attr("fill",INK).text("RSI (14, close, SMA, 14, 2)");
svg.append("text").attr("x",36).attr("y",1270).attr("font-size",TFONT).attr("fill",INK).text("Accum/Dist: No volume is provided by the data vendor.");

// TradingView logo
const logo = svg.append("g").attr("fill",INK);
logo.append("path").attr("d","M20 1427 H36 V1446 H29 V1433 H20 Z");
logo.append("circle").attr("cx",43).attr("cy",1431).attr("r",4);
logo.append("path").attr("d","M50 1427 H59 L51 1446 H42 Z");
logo.append("text").attr("x",68).attr("y",1445).attr("font-size",25).attr("fill",INK).text("TradingView");
</script></body></html>
